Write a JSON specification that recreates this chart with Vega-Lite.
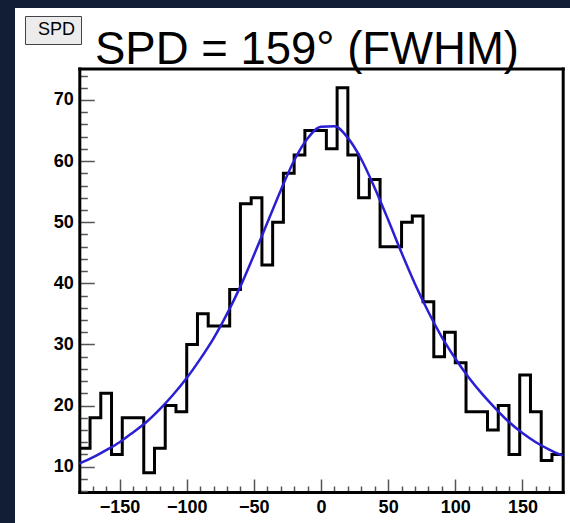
{
  "$schema": "https://vega.github.io/schema/vega-lite/v6.json",
  "width": 555,
  "height": 515,
  "autosize": {"type": "none"},
  "padding": {"left": 15, "top": 8, "right": 0, "bottom": 0},
  "background": "#121d36",
  "view": {"fill": "white", "stroke": null},
  "title": {
    "text": "SPD = 159° (FWHM)",
    "anchor": "start",
    "frame": "group",
    "font": "Liberation Sans",
    "fontSize": 45.5,
    "fontWeight": "normal",
    "color": "black",
    "baseline": "alphabetic",
    "offset": 0,
    "dx": 80,
    "dy": 101
  },
  "datasets": {
    "hist": [
      {"edge": -180, "count": 13}, {"edge": -172, "count": 18}, {"edge": -164, "count": 22},
      {"edge": -156, "count": 12}, {"edge": -148, "count": 18}, {"edge": -140, "count": 18},
      {"edge": -132, "count": 9}, {"edge": -124, "count": 13}, {"edge": -116, "count": 20},
      {"edge": -108, "count": 19}, {"edge": -100, "count": 30}, {"edge": -92, "count": 35},
      {"edge": -84, "count": 33}, {"edge": -76, "count": 33}, {"edge": -68, "count": 39},
      {"edge": -60, "count": 53}, {"edge": -52, "count": 54}, {"edge": -44, "count": 43},
      {"edge": -36, "count": 50}, {"edge": -28, "count": 58}, {"edge": -20, "count": 61},
      {"edge": -12, "count": 65}, {"edge": -4, "count": 65}, {"edge": 4, "count": 62},
      {"edge": 12, "count": 72}, {"edge": 20, "count": 61}, {"edge": 28, "count": 54},
      {"edge": 36, "count": 57}, {"edge": 44, "count": 46}, {"edge": 52, "count": 46},
      {"edge": 60, "count": 50}, {"edge": 68, "count": 51}, {"edge": 76, "count": 37},
      {"edge": 84, "count": 28}, {"edge": 92, "count": 32}, {"edge": 100, "count": 27},
      {"edge": 108, "count": 19}, {"edge": 116, "count": 19}, {"edge": 124, "count": 16},
      {"edge": 132, "count": 20}, {"edge": 140, "count": 12}, {"edge": 148, "count": 25},
      {"edge": 156, "count": 19}, {"edge": 164, "count": 11}, {"edge": 172, "count": 12},
      {"edge": 180, "count": 12}
    ],
    "fit": [
      {"x": -180, "y": 10.5}, {"x": -170, "y": 11.5}, {"x": -160, "y": 12.7}, {"x": -150, "y": 14.0},
      {"x": -140, "y": 15.6}, {"x": -130, "y": 17.3}, {"x": -120, "y": 19.4}, {"x": -110, "y": 21.8},
      {"x": -100, "y": 24.5}, {"x": -90, "y": 27.6}, {"x": -80, "y": 31.0}, {"x": -70, "y": 35.0},
      {"x": -60, "y": 39.5}, {"x": -50, "y": 44.6}, {"x": -40, "y": 49.9}, {"x": -30, "y": 55.2},
      {"x": -20, "y": 60.1}, {"x": -10, "y": 63.7}, {"x": 0, "y": 65.6}, {"x": 10, "y": 65.7},
      {"x": 20, "y": 63.8}, {"x": 30, "y": 60.3}, {"x": 40, "y": 55.6}, {"x": 50, "y": 50.4},
      {"x": 60, "y": 45.0}, {"x": 70, "y": 39.9}, {"x": 80, "y": 35.3}, {"x": 90, "y": 31.2},
      {"x": 100, "y": 27.7}, {"x": 110, "y": 24.6}, {"x": 120, "y": 21.9}, {"x": 130, "y": 19.5},
      {"x": 140, "y": 17.3}, {"x": 150, "y": 15.5}, {"x": 160, "y": 14.0}, {"x": 170, "y": 12.8},
      {"x": 180, "y": 11.8}
    ]
  },
  "layer": [
    {
      "data": {"name": "hist"},
      "mark": {"type": "line", "interpolate": "step-after", "strokeWidth": 3, "strokeJoin": "miter"},
      "encoding": {
        "x": {
          "field": "edge", "type": "quantitative",
          "scale": {"domain": [-180, 180], "range": [64.3, 547.7], "nice": false, "zero": false},
          "axis": {
            "orient": "bottom", "offset": -31, "title": null, "grid": false,
            "values": [-170, -160, -150, -140, -130, -120, -110, -100, -90, -80, -70, -60, -50, -40, -30, -20, -10, 0, 10, 20, 30, 40, 50, 60, 70, 80, 90, 100, 110, 120, 130, 140, 150, 160, 170],
            "labelExpr": "datum.value % 50 === 0 ? datum.label : ''",
            "tickSize": {"condition": {"test": "datum.value % 50 === 0", "value": -13}, "value": -6},
            "tickColor": "#555555", "tickWidth": 1.5,
            "domainColor": "black", "domainWidth": 3, "domainCap": "square",
            "labelFont": "Liberation Sans", "labelFontWeight": "bold", "labelFontSize": 18, "labelColor": "black",
            "labelPadding": 19, "labelOverlap": false, "labelFlush": false, "labelBound": false
          }
        },
        "y": {
          "field": "count", "type": "quantitative",
          "scale": {"domain": [5.85, 75.15], "range": [484, 60.5], "nice": false, "zero": false},
          "axis": {
            "orient": "left", "offset": -64.3, "title": null, "grid": false,
            "values": [6, 8, 10, 12, 14, 16, 18, 20, 22, 24, 26, 28, 30, 32, 34, 36, 38, 40, 42, 44, 46, 48, 50, 52, 54, 56, 58, 60, 62, 64, 66, 68, 70, 72, 74],
            "labelExpr": "datum.value % 10 === 0 ? datum.label : ''",
            "tickSize": {"condition": {"test": "datum.value % 10 === 0", "value": -15}, "value": -8},
            "tickColor": "#555555", "tickWidth": 1.5,
            "domainColor": "black", "domainWidth": 3, "domainCap": "square",
            "labelFont": "Liberation Sans", "labelFontWeight": "bold", "labelFontSize": 18, "labelColor": "black",
            "labelPadding": 21, "labelOverlap": false, "labelFlush": false, "labelBound": false
          }
        },
        "stroke": {
          "datum": "SPD",
          "scale": {"range": ["black"]},
          "legend": {
            "orient": "none", "legendX": 10, "legendY": 8, "title": null,
            "fillColor": "#ececec", "strokeColor": "#444444", "padding": 5, "cornerRadius": 0,
            "symbolSize": 0, "symbolOpacity": 0, "symbolStrokeWidth": 0, "labelOffset": -10,
            "labelAlign": "left",
            "labelFont": "Liberation Sans",
            "labelFontSize": 18, "labelColor": "black"
          }
        }
      }
    },
    {
      "data": {"name": "fit"},
      "mark": {"type": "line", "interpolate": "monotone", "color": "#2a1fd4", "strokeWidth": 2.5},
      "encoding": {
        "x": {
          "field": "x", "type": "quantitative",
          "axis": {"orient": "top", "offset": -60.5, "ticks": false, "labels": false, "grid": false, "title": null, "domainColor": "black", "domainWidth": 3, "domainCap": "square"}
        },
        "y": {
          "field": "y", "type": "quantitative",
          "axis": {"orient": "right", "offset": -7.3, "ticks": false, "labels": false, "grid": false, "title": null, "domainColor": "black", "domainWidth": 3, "domainCap": "square"}
        }
      }
    }
  ],
  "resolve": {"axis": {"x": "independent", "y": "independent"}}
}
